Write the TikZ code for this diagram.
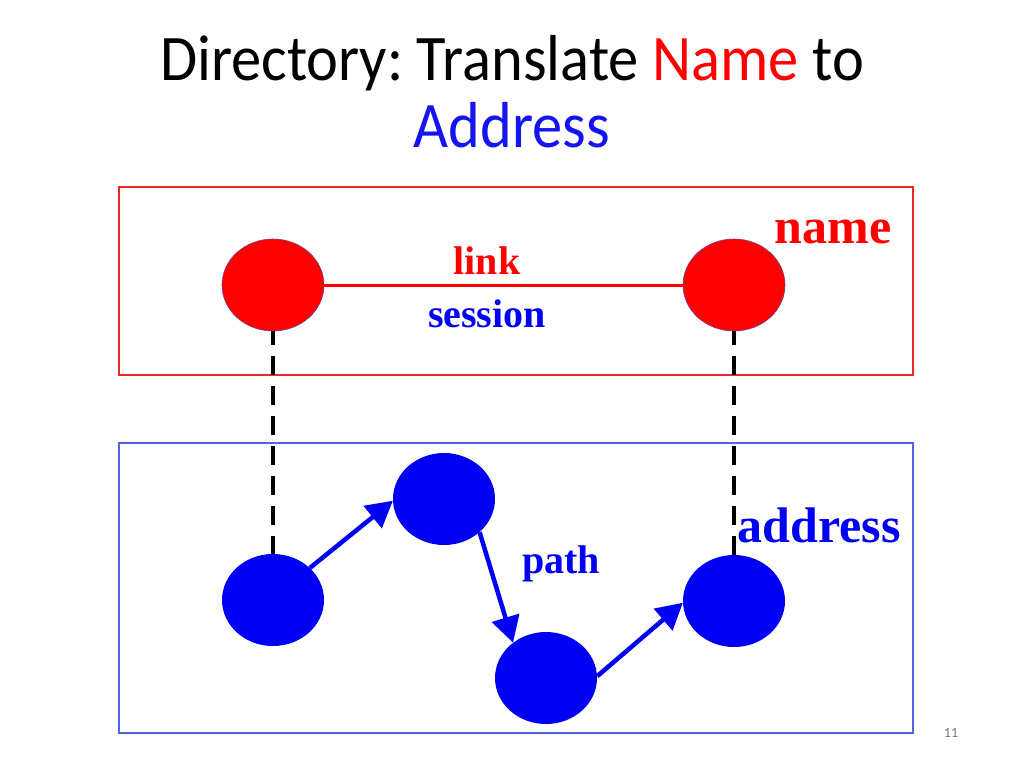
\documentclass[tikz,border=0pt]{standalone}
\usepackage{fontspec}
\setmainfont{Liberation Serif}
\newfontfamily\titlefont{Carlito}
\usetikzlibrary{shapes.geometric,arrows.meta}
\definecolor{redN}{RGB}{255,0,0}
\definecolor{blueN}{RGB}{0,0,245}
\definecolor{titleblue}{RGB}{20,20,240}
\definecolor{redframe}{RGB}{235,40,40}
\definecolor{blueframe}{RGB}{80,100,225}
\tikzset{
  titletext/.style={anchor=base, inner sep=0pt, xscale=0.93, font=\titlefont\fontsize{65}{65}\selectfont},
  lbl/.style={anchor=base, inner sep=0pt, font=\bfseries\fontsize{40}{40}\selectfont},
  biglbl/.style={anchor=base, inner sep=0pt, font=\bfseries\fontsize{50}{50}\selectfont},
  dot/.style={ellipse, minimum width=102pt, minimum height=92pt, inner sep=0pt},
  reddot/.style={dot, fill=redN, draw={rgb,255:red,110;green,70;blue,140}, line width=0.6pt},
  bluedot/.style={dot, fill=blueN},
  frame/.style={line width=1.2pt},
  dashlink/.style={black, line width=4.5pt, dash pattern=on 19pt off 11pt, dash phase=5pt},
  patharrow/.style={blueN, line width=4.5pt, -{Triangle[length=26pt, width=28pt]}},
}
\begin{document}
\begin{tikzpicture}[x=1pt,y=-1pt]
\useasboundingbox (0,0) rectangle (1024,768);
\fill[white] (0,0) rectangle (1024,768);

% title
\node[titletext] (t1) at (512,80) {Directory:\hspace{-0.08em} Translate \textcolor{redN}{Name} to};
\node[titletext, text=titleblue] (t2) at (512,147) {Address};

% frames
\draw[frame, redframe] (119,187) rectangle (913,375);
\draw[frame, blueframe] (119,443) rectangle (913,733);

% name layer
\node[reddot] (na) at (273,285) {};
\node[reddot] (nb) at (734,285) {};
\draw[redN, line width=3pt] (na) -- (nb);
\node[lbl, text=redN] (link) at (487,274) {link};
\node[lbl, text=blueN] (sess) at (487,327) {session};
\node[biglbl, text=redN] (name) at (833,243) {name};

% address layer
\node[bluedot] (a1) at (273,600) {};
\node[bluedot] (a2) at (444,499) {};
\node[bluedot] (a3) at (546,678) {};
\node[bluedot] (a4) at (734,601) {};
\node[lbl, text=blueN] (path) at (561,573) {path};
\node[biglbl, text=blueN] (addr) at (819,542) {address};

% vertical dashed links
\draw[dashlink] (na.south) -- (a1.north);
\draw[dashlink] (nb.south) -- (a4.north);

% path arrows
\draw[patharrow] (a1.41) -- (a2.182);
\draw[patharrow] (a2.-43) -- (a3.133);
\draw[patharrow] (a3.2) -- (a4.182);

% page number
\node[anchor=base, inner sep=0pt, text={rgb,255:red,120;green,120;blue,120}, font=\titlefont\fontsize{14}{14}\selectfont] (pg) at (951,737) {11};
\end{tikzpicture}
\end{document}
